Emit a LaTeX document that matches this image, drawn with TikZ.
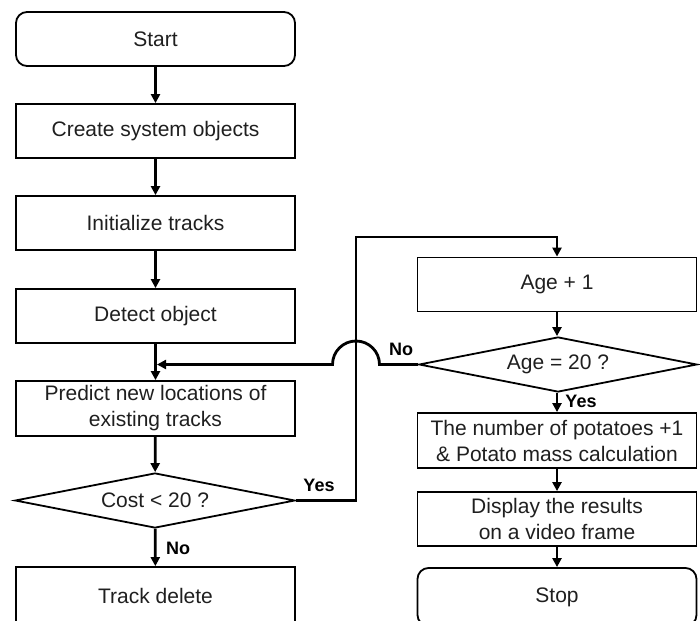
\documentclass[tikz,border=0pt]{standalone}
\usepackage{fontspec}
\setmainfont{Liberation Sans}
\usetikzlibrary{shapes.geometric,arrows.meta}
\begin{document}
\begin{tikzpicture}[x=1pt,y=-1pt,
 proc/.style={draw,line width=1.8pt,minimum width=279pt,minimum height=54pt,inner sep=0pt,align=center,font=\fontsize{21}{26}\selectfont,text=black!88},
 term/.style={proc,rounded corners=11pt},
 decision/.style={draw,diamond,line width=1.8pt,minimum width=280pt,minimum height=55pt,inner sep=0pt,aspect=5,font=\fontsize{21}{26}\selectfont,text=black!88},
 flow/.style={line width=2.8pt,-{Triangle[length=9pt,width=9pt]}},
 lab/.style={font=\fontsize{18}{20}\selectfont\bfseries,inner sep=0pt}]
\useasboundingbox (0,0) rectangle (700,620);
% left column
\node[term] (start) at (155.5,39) {Start};
\node[proc] (create) at (155.5,131) {Create system objects};
\node[proc] (init) at (155.5,223) {Initialize tracks};
\node[proc] (detect) at (155.5,316) {Detect object};
\node[proc,minimum height=55pt] (predict) at (155.5,408.5) {Predict new locations of\\existing tracks};
\node[decision] (cost) at (155,500.5) {Cost < 20 ?};
\node[proc,minimum height=58pt] (trackdel) at (155.5,596) {Track delete};
% right column
\node[proc] (age) at (557,284.5) {Age + 1};
\node[decision,minimum width=278pt] (agediam) at (558,364.5) {Age = 20 ?};
\node[proc,minimum height=55pt] (number) at (557,440.5) {The number of potatoes +1\\\& Potato mass calculation};
\node[proc] (display) at (557,519) {Display the results\\on a video frame};
\node[term,minimum height=58pt] (stop) at (557,597) {Stop};
% connectors
\draw[flow] (start) -- (create);
\draw[flow] (create) -- (init);
\draw[flow] (init) -- (detect);
\draw[flow] (detect) -- (predict);
\draw[flow] (predict) -- (cost);
\draw[flow] (cost) -- (trackdel);
\coordinate (yesup) at (356,237);
\draw[flow] (cost.east) -| (yesup) -| (age.north);
\draw[flow] (age) -- (age.south |- agediam.north);
\coordinate (hopc) at (yesup |- agediam.west);
\coordinate (noend) at ([xshift=1.5pt]predict.north |- agediam.west);
\draw[flow] (agediam.west) -- ([xshift=23.5pt]hopc) arc[start angle=0,end angle=180,radius=23.5pt] -- (noend);
\draw[flow] (number.north |- agediam.south) -- (number);
\draw[flow] (number) -- (display);
\draw[flow] (display) -- (stop);
% labels
\node[lab] (l1) at (319,485) {Yes};
\node[lab] (l2) at (178,548) {No};
\node[lab] (l3) at (401,349) {No};
\node[lab] (l4) at (581,401) {Yes};
\end{tikzpicture}
\end{document}
